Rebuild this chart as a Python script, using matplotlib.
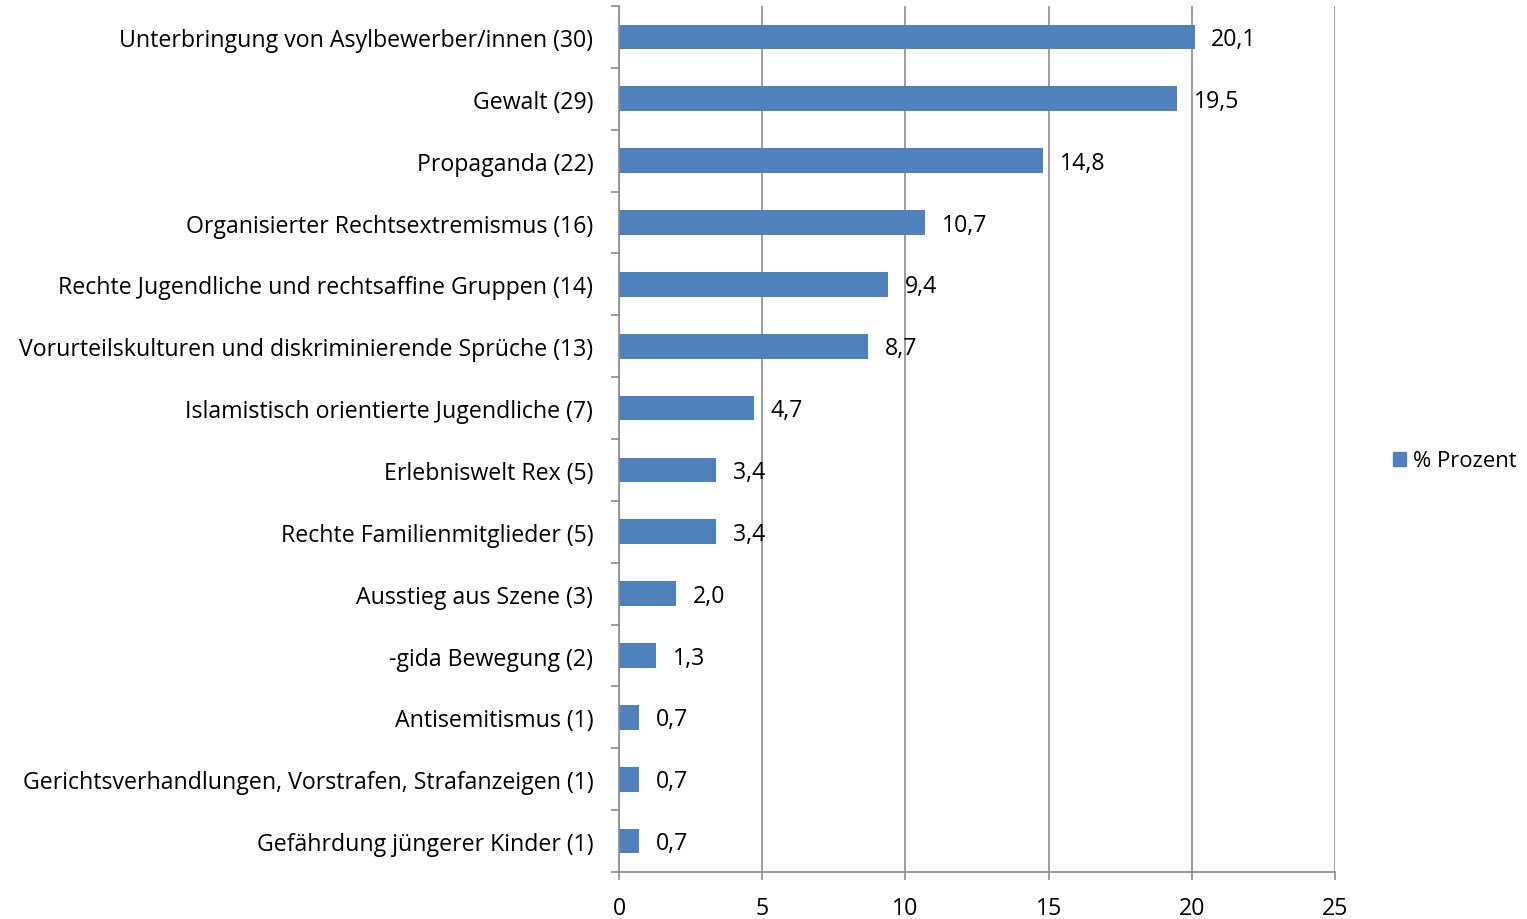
import matplotlib
matplotlib.use("Agg")
import matplotlib.pyplot as plt
import numpy as np
from matplotlib.patches import Patch

categories = [
    "Unterbringung von Asylbewerber/innen (30)",
    "Gewalt (29)",
    "Propaganda (22)",
    "Organisierter Rechtsextremismus (16)",
    "Rechte Jugendliche und rechtsaffine Gruppen (14)",
    "Vorurteilskulturen und diskriminierende Sprüche (13)",
    "Islamistisch orientierte Jugendliche (7)",
    "Erlebniswelt Rex (5)",
    "Rechte Familienmitglieder (5)",
    "Ausstieg aus Szene (3)",
    "-gida Bewegung (2)",
    "Antisemitismus (1)",
    "Gerichtsverhandlungen, Vorstrafen, Strafanzeigen (1)",
    "Gefährdung jüngerer Kinder (1)",
]
values = [20.1, 19.5, 14.8, 10.7, 9.4, 8.7, 4.7, 3.4, 3.4, 2.0, 1.3, 0.7, 0.7, 0.7]
xticks = [0, 5, 10, 15, 20, 25]
series_name = "% Prozent"

plt.rcParams['font.family'] = ['Open Sans', 'DejaVu Sans']
bar_color = "#4F81BD"
grey = "#8C8C8C"
fs = 16.7

fig = plt.figure(figsize=(15.27, 9.2), dpi=100)
ax = fig.add_axes([619/1527, 1 - 873/920, (1335-619)/1527, (873-7)/920])

n = len(categories)
ypos = np.arange(n)
ax.barh(ypos, values, height=0.4, color=bar_color, zorder=3)
ax.set_ylim(n - 0.5, -0.5)
ax.set_xlim(0, 25)
ax.set_xticks(xticks)
ax.set_xticklabels([str(t) for t in xticks], fontsize=fs)
ax.set_yticks(ypos)
ax.set_yticklabels(categories, fontsize=fs)
ax.tick_params(axis='y', which='major', length=0, pad=18.5)
ax.set_yticks(np.arange(n + 1) - 0.5, minor=True)
ax.tick_params(axis='y', which='minor', length=5.5, color=grey, width=1.2)
ax.tick_params(axis='x', length=6, color=grey, width=1.2, pad=11)

ax.grid(axis='x', color=grey, linewidth=1.2, zorder=0)
for s in ['top', 'right']:
    ax.spines[s].set_visible(False)
for s in ['left', 'bottom']:
    ax.spines[s].set_color(grey)
    ax.spines[s].set_linewidth(1.2)
    ax.spines[s].set_zorder(4)

for y, v in zip(ypos, values):
    ax.annotate(f"{v:.1f}".replace('.', ','), xy=(v, y), xytext=(12, -1.5),
                textcoords='offset points', va='center', ha='left', fontsize=fs, zorder=5)

leg = fig.legend(handles=[Patch(color=bar_color, label=series_name)], loc='center left',
                 bbox_to_anchor=(1393/1527, 1 - 462/920), frameon=False, fontsize=15.8,
                 borderpad=0, borderaxespad=0,
                 handlelength=0.6, handleheight=0.6, handletextpad=0.3)

fig.savefig("out.png", dpi=100)
